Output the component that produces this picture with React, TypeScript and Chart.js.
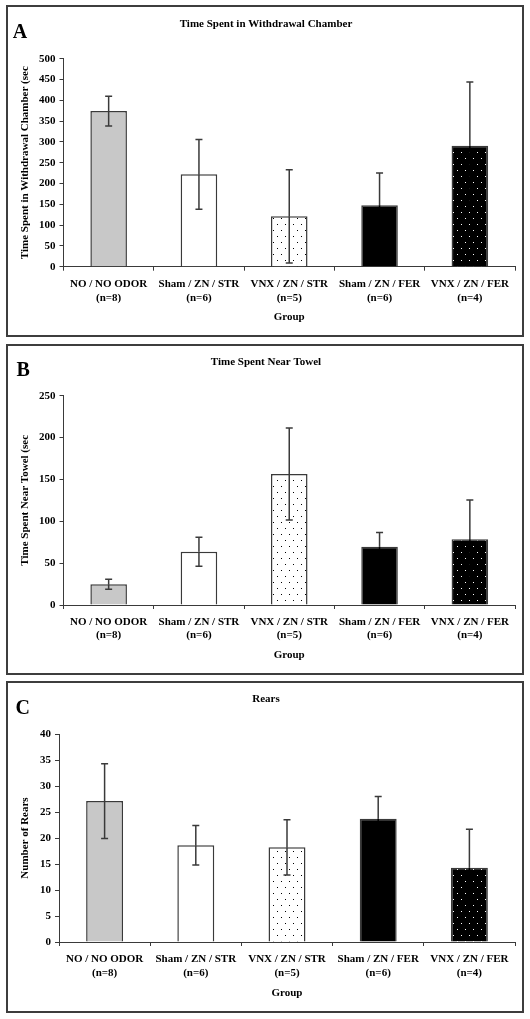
import React, { useEffect, useRef } from 'react';
import { Chart, registerables } from 'chart.js';

Chart.register(...registerables);

// ---------- data ----------
const groups = ['NO / NO ODOR', 'Sham / ZN / STR', 'VNX / ZN / STR', 'Sham / ZN / FER', 'VNX / ZN / FER'];
const groupSizes = ['(n=8)', '(n=6)', '(n=5)', '(n=6)', '(n=4)'];

const withdrawalMeans = [374, 222, 121, 148, 291];
const withdrawalErrors = [36, 84, 112, 77, 153];

const towelMeans = [24.7, 63.5, 156.5, 69.7, 78.4];
const towelErrors = [6, 17.3, 55, 17, 47];

const rearsMeans = [27.1, 18.6, 18.2, 23.7, 14.3];
const rearsErrors = [7.2, 3.8, 5.3, 4.3, 7.4];

const FONT = "'Liberation Serif', 'Times New Roman', serif";
const INK = '#3a3a3a';
// lower half of the error bar is hidden inside the dark bars
const lowerErrorColors = [INK, INK, INK, '#000000', '#000000'];

function makePattern(bg: string, dot: string): CanvasPattern | string {
  const c = document.createElement('canvas');
  c.width = 8;
  c.height = 12;
  const g = c.getContext('2d');
  if (!g) return bg;
  g.fillStyle = bg;
  g.fillRect(0, 0, 8, 12);
  g.fillStyle = dot;
  g.fillRect(1, 2, 1, 1);
  g.fillRect(5, 8, 1, 1);
  return g.createPattern(c, 'repeat') || bg;
}

const errorBarPlugin = (errors: number[]) => ({
  id: 'errorBars',
  afterDatasetsDraw(chart: any) {
    const meta = chart.getDatasetMeta(0);
    const y = chart.scales.y;
    const ctx = chart.ctx;
    const values = chart.data.datasets[0].data as number[];
    ctx.save();
    ctx.lineWidth = 1.5;
    meta.data.forEach((bar: any, i: number) => {
      const x = bar.x;
      const mid = y.getPixelForValue(values[i]);
      const top = y.getPixelForValue(values[i] + errors[i]);
      const bot = y.getPixelForValue(Math.max(0, values[i] - errors[i]));
      ctx.strokeStyle = INK;
      ctx.beginPath();
      ctx.moveTo(x, top);
      ctx.lineTo(x, mid);
      ctx.moveTo(x - 3.5, top);
      ctx.lineTo(x + 3.5, top);
      ctx.stroke();
      ctx.strokeStyle = lowerErrorColors[i];
      ctx.beginPath();
      ctx.moveTo(x, mid);
      ctx.lineTo(x, bot);
      ctx.moveTo(x - 3.5, bot);
      ctx.lineTo(x + 3.5, bot);
      ctx.stroke();
    });
    ctx.restore();
  },
});

const letterPlugin = (letter: string, x: number, baseline: number) => ({
  id: 'panelLetter',
  afterDraw(chart: any) {
    const ctx = chart.ctx;
    ctx.save();
    ctx.fillStyle = '#000';
    ctx.font = `bold 20px ${FONT}`;
    ctx.textBaseline = 'alphabetic';
    ctx.textAlign = 'left';
    ctx.fillText(letter, x, baseline);
    ctx.restore();
  },
});

type PanelCfg = {
  letter: string;
  letterX: number;
  letterBase: number;
  title: string;
  yTitle: string;
  means: number[];
  errors: number[];
  max: number;
  step: number;
  top: number;
  height: number;
  boxTop: number;
  boxHeight: number;
  titlePadTop: number;
  titlePadBottom: number;
  xAxisHeight: number;
  xTickPad: number;
  xTitlePadBottom: number;
  yAxisWidth: number;
};

const PAD_LEFT = 17;
const PAD_RIGHT = 15;

const panels: PanelCfg[] = [
  {
    letter: 'A', letterX: 12.7, letterBase: 38,
    title: 'Time Spent in Withdrawal Chamber',
    yTitle: 'Time Spent in Withdrawal Chamber (sec',
    means: withdrawalMeans, errors: withdrawalErrors, max: 500, step: 50,
    top: 0, height: 340, boxTop: 5, boxHeight: 332,
    titlePadTop: 17.4, titlePadBottom: 28.1,
    xAxisHeight: 73.3, xTickPad: 6.7, xTitlePadBottom: 16.4, yAxisWidth: 63.5 - PAD_LEFT,
  },
  {
    letter: 'B', letterX: 16.5, letterBase: 36,
    title: 'Time Spent Near Towel',
    yTitle: 'Time Spent Near Towel (sec',
    means: towelMeans, errors: towelErrors, max: 250, step: 50,
    top: 340, height: 335, boxTop: 344, boxHeight: 331,
    titlePadTop: 15.1, titlePadBottom: 27.4,
    xAxisHeight: 70, xTickPad: 5.8, xTitlePadBottom: 13.1, yAxisWidth: 63.5 - PAD_LEFT,
  },
  {
    letter: 'C', letterX: 15.5, letterBase: 39,
    title: 'Rears',
    yTitle: 'Number of Rears',
    means: rearsMeans, errors: rearsErrors, max: 40, step: 5,
    top: 675, height: 344, boxTop: 681, boxHeight: 332,
    titlePadTop: 17.7, titlePadBottom: 28.1,
    xAxisHeight: 77, xTickPad: 6.4, xTitlePadBottom: 18.8, yAxisWidth: 59 - PAD_LEFT,
  },
];

function Panel({ cfg }: { cfg: PanelCfg }) {
  const ref = useRef<HTMLCanvasElement>(null);

  useEffect(() => {
    if (!ref.current) return;
    const fills = [
      '#c8c8c8',
      '#ffffff',
      makePattern('#ffffff', '#000000'),
      '#000000',
      makePattern('#000000', '#ffffff'),
    ];
    const font = { family: FONT, size: 11, weight: 'bold' as const, lineHeight: 1.2 };
    const tickFont = { family: FONT, size: 11, weight: 'bold' as const, lineHeight: 1.25 };
    const chart = new Chart(ref.current, {
      type: 'bar',
      data: {
        labels: groups.map((g, i) => [g, groupSizes[i]]),
        datasets: [
          {
            data: cfg.means,
            backgroundColor: fills as any,
            borderColor: INK,
            borderWidth: 1.5,
            barPercentage: 0.405,
            categoryPercentage: 1,
          },
        ],
      },
      options: {
        responsive: false,
        animation: false,
        devicePixelRatio: 1,
        layout: { padding: { left: PAD_LEFT, right: PAD_RIGHT, top: 0, bottom: 0 } },
        plugins: {
          legend: { display: false },
          tooltip: { enabled: false },
          title: {
            display: true,
            text: cfg.title,
            color: '#000',
            font,
            padding: { top: cfg.titlePadTop, bottom: cfg.titlePadBottom },
          },
        },
        scales: {
          x: {
            offset: true,
            grid: {
              display: true,
              drawOnChartArea: false,
              drawTicks: true,
              tickLength: 4,
              color: INK,
              offset: true,
            },
            border: { display: true, color: INK, width: 1 },
            ticks: {
              color: '#000',
              font: tickFont,
              padding: cfg.xTickPad,
              maxRotation: 0,
              minRotation: 0,
              autoSkip: false,
            },
            title: {
              display: true,
              text: 'Group',
              color: '#000',
              font,
              padding: { top: 0, bottom: cfg.xTitlePadBottom },
            },
            afterFit: (s: any) => {
              s.height = cfg.xAxisHeight;
            },
          },
          y: {
            min: 0,
            max: cfg.max,
            grid: {
              display: true,
              drawOnChartArea: false,
              drawTicks: true,
              tickLength: 4,
              color: INK,
            },
            border: { display: true, color: INK, width: 1 },
            ticks: {
              stepSize: cfg.step,
              color: '#000',
              font: tickFont,
              padding: 4,
            },
            title: {
              display: true,
              text: cfg.yTitle,
              color: '#000',
              font,
              padding: { top: 25.5 - PAD_LEFT - 6.6, bottom: 0 },
            },
            afterFit: (s: any) => {
              s.width = cfg.yAxisWidth;
            },
          },
        },
      },
      plugins: [errorBarPlugin(cfg.errors), letterPlugin(cfg.letter, cfg.letterX, cfg.letterBase)],
    });
    return () => chart.destroy();
  }, [cfg]);

  return (
    <>
      <canvas
        ref={ref}
        width={530}
        height={cfg.height}
        style={{ position: 'absolute', left: 0, top: cfg.top, width: 530, height: cfg.height }}
      />
      <div
        style={{
          position: 'absolute',
          left: 6,
          top: cfg.boxTop,
          width: 518,
          height: cfg.boxHeight,
          border: '2px solid #3d3d3d',
          boxSizing: 'border-box',
          pointerEvents: 'none',
        }}
      />
    </>
  );
}

export default function App() {
  return (
    <div>
      {panels.map((p) => (
        <Panel key={p.letter} cfg={p} />
      ))}
    </div>
  );
}
